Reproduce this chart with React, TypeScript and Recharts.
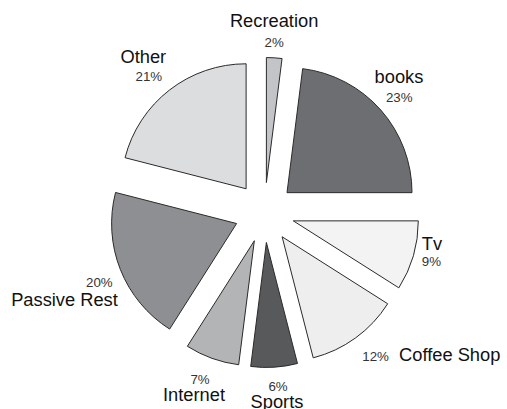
import React from 'react';
import { PieChart, Pie, Sector } from 'recharts';

const categories = ['Recreation', 'books', 'Tv', 'Coffee Shop', 'Sports', 'Internet', 'Passive Rest', 'Other'];
const shares = [2, 23, 9, 12, 6, 7, 20, 21];
const colors = ['#c3c4c7', '#6d6e71', '#f3f3f4', '#eeeeef', '#58595b', '#b3b4b6', '#8e8f92', '#dcdddf'];

const data = categories.map((name, i) => ({ name, value: shares[i] }));

const EXPLODE = 30;
const LABEL_R = 185;
const RAD = Math.PI / 180;

type Part = { dx: number; dy: number; anchor: 'start' | 'middle' | 'end' };
const labelLayout: Record<string, { name: Part; pct: Part }> = {
  Recreation: { name: { dx: -2, dy: -1, anchor: 'middle' }, pct: { dx: -2, dy: 18.8, anchor: 'middle' } },
  books: { name: { dx: -4.3, dy: -7.5, anchor: 'middle' }, pct: { dx: -4, dy: 11.5, anchor: 'middle' } },
  Tv: { name: { dx: -20.3, dy: -14, anchor: 'start' }, pct: { dx: -20.3, dy: 2, anchor: 'start' } },
  'Coffee Shop': { name: { dx: 25.8, dy: -0.7, anchor: 'start' }, pct: { dx: -10.9, dy: -0.7, anchor: 'start' } },
  Sports: { name: { dx: 0.9, dy: 11.3, anchor: 'middle' }, pct: { dx: 1.9, dy: -5.8, anchor: 'middle' } },
  Internet: { name: { dx: -7.8, dy: 14.2, anchor: 'middle' }, pct: { dx: -1.8, dy: -2.5, anchor: 'middle' } },
  'Passive Rest': { name: { dx: -28, dy: 25.1, anchor: 'middle' }, pct: { dx: 6.9, dy: 6.4, anchor: 'middle' } },
  Other: { name: { dx: -7.8, dy: -3.6, anchor: 'middle' }, pct: { dx: -2.3, dy: 14.4, anchor: 'middle' } },
};

const FONT = '"Liberation Sans", Arial, Helvetica, sans-serif';

const renderExploded = (props: any) => {
  const { cx, cy, midAngle, outerRadius, innerRadius, startAngle, endAngle, index, name, value } = props;
  const ox = EXPLODE * Math.cos(-midAngle * RAD);
  const oy = EXPLODE * Math.sin(-midAngle * RAD);
  const ax = cx + LABEL_R * Math.cos(-midAngle * RAD);
  const ay = cy + LABEL_R * Math.sin(-midAngle * RAD);
  const lay = labelLayout[name];
  return (
    <g key={`s-${index}`}>
      <Sector
        cx={cx + ox}
        cy={cy + oy}
        innerRadius={innerRadius}
        outerRadius={outerRadius}
        startAngle={startAngle}
        endAngle={endAngle}
        fill={colors[index]}
        stroke="#2a2a2a"
        strokeWidth={1}
      />
      <text
        x={ax + lay.name.dx}
        y={ay + lay.name.dy}
        textAnchor={lay.name.anchor}
        fontFamily={FONT}
        fontSize={18.3}
        fill="#111111"
      >
        {name}
      </text>
      <text
        x={ax + lay.pct.dx}
        y={ay + lay.pct.dy}
        textAnchor={lay.pct.anchor}
        fontFamily={FONT}
        fontSize={13.3}
        fill="#333333"
      >
        {`${value}%`}
      </text>
    </g>
  );
};

export default function App() {
  return (
    <div style={{ position: 'absolute', left: 0, top: 0, width: 507, height: 409, background: '#ffffff' }}>
      <PieChart width={507} height={409} margin={{ top: 0, right: 0, bottom: 0, left: 0 }}>
        <Pie
          data={data}
          dataKey="value"
          nameKey="name"
          cx={264.5}
          cy={212.5}
          innerRadius={0}
          outerRadius={125}
          startAngle={90}
          endAngle={-270}
          fill="transparent"
          stroke="none"
          label={renderExploded}
          labelLine={false}
          isAnimationActive={false}
        />
      </PieChart>
    </div>
  );
}
